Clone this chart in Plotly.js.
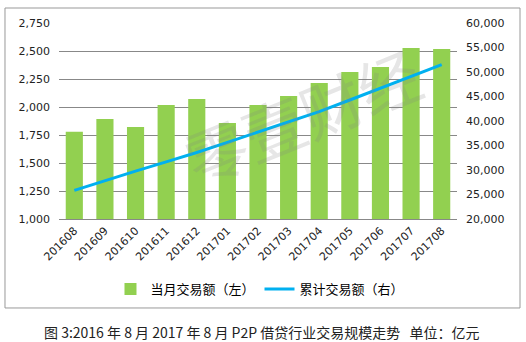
<!DOCTYPE html>
<html><head><meta charset="utf-8">
<script src="https://cdn.plot.ly/plotly-3.0.1.min.js"></script>
<style>html,body{margin:0;padding:0;background:#fff;}#chart{width:526px;height:342px;}</style>
</head><body><div id="chart"></div>
<script>
const months = ["201608","201609","201610","201611","201612","201701","201702","201703","201704","201705","201706","201707","201708"];
const monthlyVolume = [1778, 1893, 1821, 2018, 2071, 1857, 2018, 2098, 2214, 2312, 2357, 2527, 2518];
const cumulativeVolume = [25840, 27840, 29760, 31670, 33570, 35650, 37740, 39820, 41900, 44290, 46700, 49100, 51510];
const leftTicks = [1000, 1250, 1500, 1750, 2000, 2250, 2500, 2750];
const rightTicks = [20000, 25000, 30000, 35000, 40000, 45000, 50000, 55000, 60000];
const barName = "当月交易额（左）";
const lineName = "累计交易额（右）";
const caption = "图 3:2016 年 8 月 2017 年 8 月 P2P 借贷行业交易规模走势   单位：亿元";
const watermark = "零壹财经";

const tickFont = {family: "DejaVu Sans, Verdana, sans-serif", size: 11, color: "#222"};
const cjk = "Noto Sans CJK SC, sans-serif";

const traces = [
  {type: "bar", x: months, y: monthlyVolume, name: barName, marker: {color: "#92D050"}, yaxis: "y"},
  {type: "scatter", mode: "lines", x: months, y: cumulativeVolume, name: lineName, line: {color: "#00B0F0", width: 3}, yaxis: "y2"}
];

const layout = {
  width: 526, height: 342,
  margin: {l: 59, r: 69, t: 23, b: 123},
  paper_bgcolor: "#fff", plot_bgcolor: "#fff",
  bargap: 0.44,
  showlegend: true,
  legend: {orientation: "h", x: 0.505, xanchor: "center", y: -0.357, yanchor: "middle",
           font: {family: cjk, size: 13, color: "#000"}, itemwidth: 30, tracegroupgap: 0},
  xaxis: {type: "category", tickangle: -45, tickfont: tickFont, showgrid: false,
          showline: true, linecolor: "#888", linewidth: 1, ticks: "", automargin: false},
  yaxis: {range: [1000, 2750], tickvals: leftTicks, tickformat: ",d", tickfont: tickFont,
          showgrid: true, gridcolor: "#888", gridwidth: 1, zeroline: false, showline: false, ticks: "",
          ticklabelstandoff: 8, automargin: false},
  yaxis2: {range: [20000, 60000], tickvals: rightTicks, tickformat: ",d", tickfont: tickFont,
           overlaying: "y", side: "right", showgrid: false, zeroline: false, showline: false, ticks: "",
           ticklabelstandoff: 8, automargin: false},
  shapes: [
    {type: "rect", xref: "paper", yref: "paper", x0: -0.1357, x1: 1.1583, y0: -0.454, y1: 1.0765,
     line: {color: "#999", width: 1}, fillcolor: "rgba(0,0,0,0)"}
  ],
  annotations: [
    {text: caption, xref: "paper", yref: "paper", x: 0.51, y: -0.578, xanchor: "center", yanchor: "middle",
     showarrow: false, font: {family: cjk, size: 14, color: "#222"}},
    {text: watermark, xref: "paper", yref: "paper", x: 0.61, y: 0.53, xanchor: "center", yanchor: "middle",
     showarrow: false, textangle: -22, font: {family: cjk, size: 62, color: "rgba(130,130,130,0.2)"}}
  ]
};

Plotly.newPlot("chart", traces, layout, {displayModeBar: false, staticPlot: true});
</script>
</body></html>
